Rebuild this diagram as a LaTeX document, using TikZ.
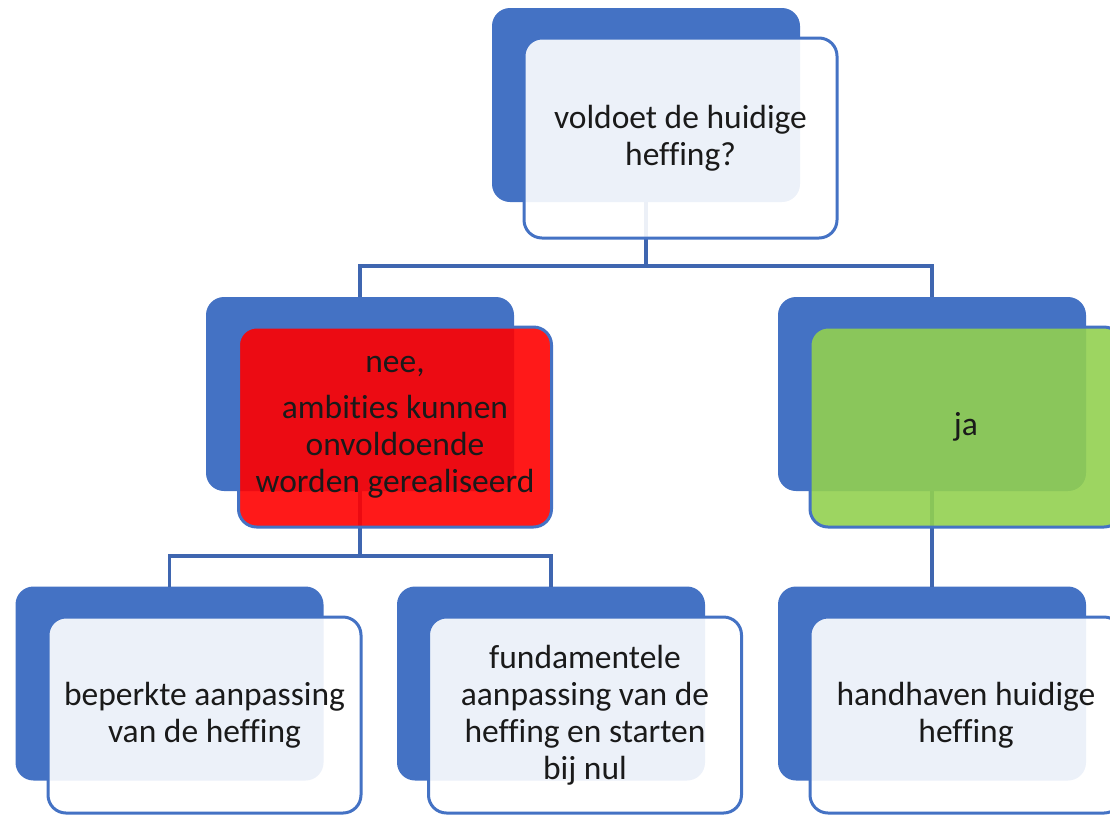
\documentclass[tikz,border=0pt]{standalone}
\usepackage{fontspec}
\setmainfont[Ligatures={NoCommon}]{Carlito}
\definecolor{accent}{HTML}{4472C4}
\definecolor{linkc}{HTML}{3F66B0}
\definecolor{okgreen}{HTML}{92D050}
\definecolor{txt}{HTML}{1A1A1A}
\begin{document}
\begin{tikzpicture}[x=1pt,y=-1pt,
  backbox/.style={draw=none,fill=accent,rounded corners=18pt,minimum width=308pt,minimum height=194pt,inner sep=0pt,outer sep=0pt},
  frontbox/.style={draw=accent,line width=3pt,fill=white,fill opacity=0.9,text opacity=1,rounded corners=18pt,minimum width=313pt,minimum height=198pt,inner sep=0pt,outer sep=0pt,align=center,text=txt,font=\fontsize{33.5}{37}\selectfont},
  link/.style={draw=linkc,line width=3.2pt}]
\clip (0,0) rectangle (1110,815);
% back boxes
\node[backbox] (b0) at (646,105) {};
\node[backbox] (b1) at (360,394) {};
\node[backbox] (b2) at (932,394) {};
\node[backbox] (b3) at (169.5,683.5) {};
\node[backbox] (b4) at (551,683.5) {};
\node[backbox] (b5) at (932,683.5) {};
% connectors
\draw[link] (b0.south) -- ++(0,64) -| (b1.north);
\draw[link] (b0.south) -- ++(0,64) -| (b2.north);
\draw[link] (b1.south) -- ++(0,65) -| (b3.north);
\draw[link] (b1.south) -- ++(0,65) -| (b4.north);
\draw[link] (b2.south) -- (b5.north);
% front boxes
\node[frontbox,minimum height=200pt] (f0) at (680.5,138) {voldoet de huidige\\heffing?};
\node[frontbox,minimum height=200pt,fill=red] (f1) at (395,427) {nee,\\[9pt]ambities kunnen\\onvoldoende\\worden gerealiseerd};
\node[frontbox,minimum height=200pt,fill=okgreen,minimum width=312pt] (f2) at (966,427) {ja};
\node[frontbox,minimum height=196pt] (f3) at (204.5,715) {beperkte aanpassing\\van de heffing};
\node[frontbox,minimum height=196pt] (f4) at (585,715) {fundamentele\\aanpassing van de\\heffing en starten\\bij nul};
\node[frontbox,minimum height=196pt,minimum width=312pt] (f5) at (966,715) {handhaven huidige\\heffing};
\end{tikzpicture}
\end{document}
